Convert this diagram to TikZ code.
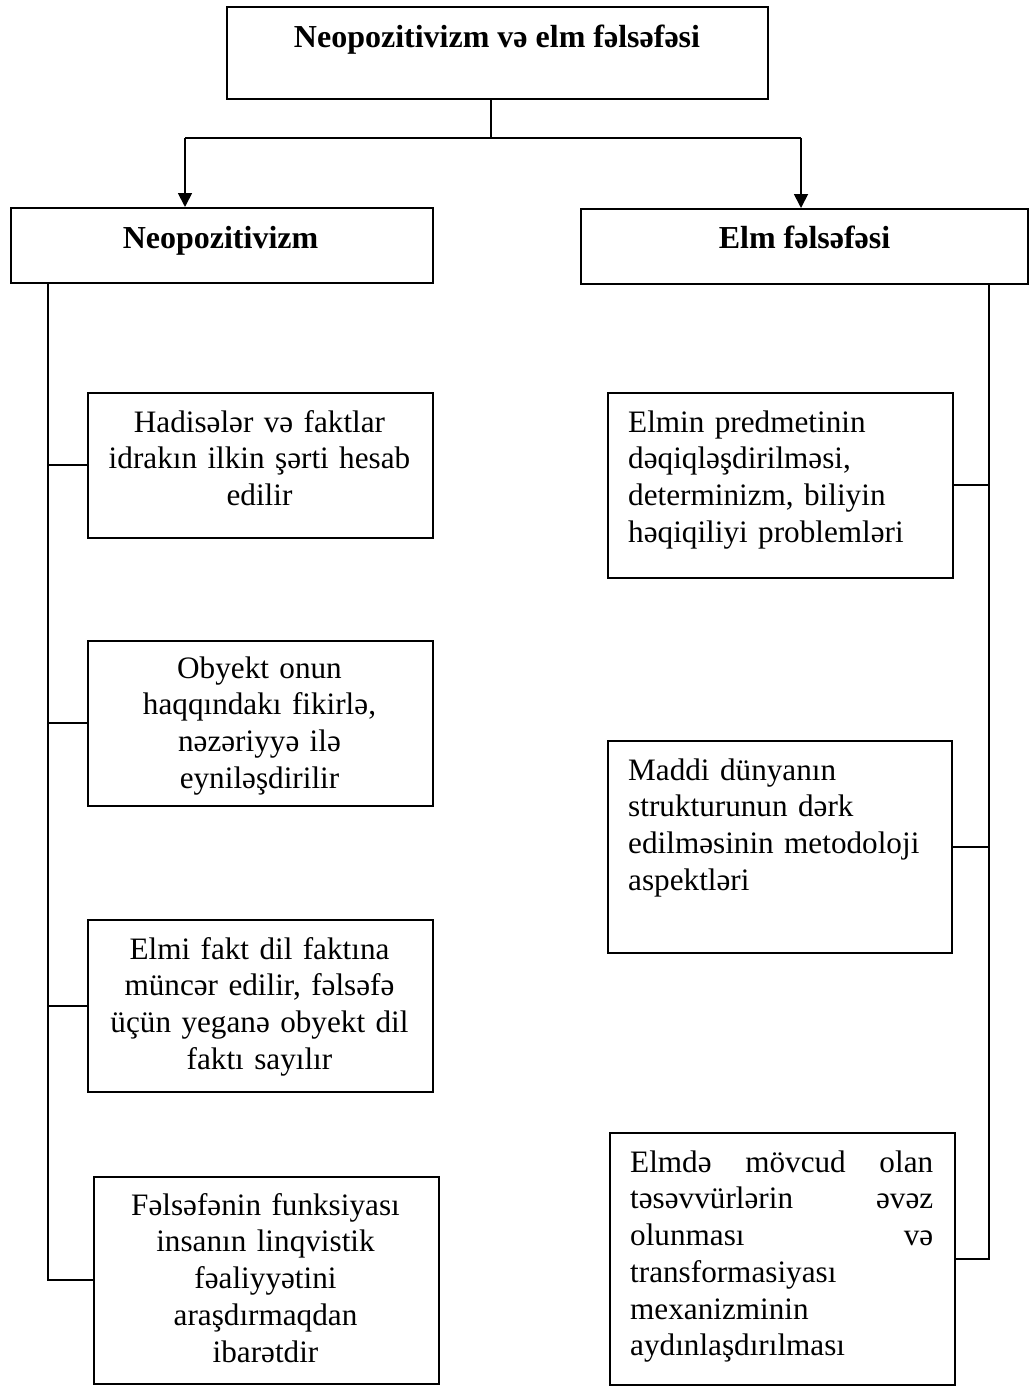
\documentclass[tikz,border=0pt]{standalone}
\usepackage{fontspec}
\setmainfont{Liberation Serif}
\usetikzlibrary{arrows.meta}
\begin{document}
\begin{tikzpicture}[x=1pt,y=-1pt,
  box/.style={draw, line width=1.6pt, inner sep=0pt, anchor=north west},
  conn/.style={line width=1.8pt},
  stem/.style={line width=1.2pt},
  arr/.style={line width=1.8pt, -{Triangle[length=14pt,width=14pt]}},
  head/.style={inner sep=0pt, anchor=base, font=\fontsize{32}{38}\selectfont\bfseries},
  ctxt/.style={inner sep=0pt, anchor=north, text width=340pt, align=center, font=\fontsize{31.2}{36.7}\selectfont},
  ltxt/.style={inner sep=0pt, anchor=north west, text width=320pt, align=left, font=\fontsize{31.2}{36.7}\selectfont}]
\useasboundingbox (0,0) rectangle (1030,1386);
\fill[white] (0,0) rectangle (1030,1386);

% boxes
\node[box, minimum width=541pt, minimum height=92pt] (top) at (226,6) {};
\node[box, minimum width=422pt, minimum height=75pt] (nl) at (10,207) {};
\node[box, minimum width=447pt, minimum height=75pt] (nr) at (580,208) {};
\node[box, minimum width=345pt, minimum height=145pt] (l1) at (87,392) {};
\node[box, minimum width=345pt, minimum height=165pt] (l2) at (87,640) {};
\node[box, minimum width=345pt, minimum height=172pt] (l3) at (87,919) {};
\node[box, minimum width=345pt, minimum height=207pt] (l4) at (93,1176) {};
\node[box, minimum width=345pt, minimum height=185pt] (r1) at (607,392) {};
\node[box, minimum width=344pt, minimum height=212pt] (r2) at (607,740) {};
\node[box, minimum width=345pt, minimum height=252pt] (r3) at (609,1132) {};

% texts
\node[head] (topt) at (497,48) {Neopozitivizm və elm fəlsəfəsi};
\node[head] (nlt) at (220.5,248) {Neopozitivizm};
\node[head] (nrt) at (804.5,248) {Elm fəlsəfəsi};

\node[ctxt] (l1t) at (259.5,406.3) {\strut Hadisələr və faktlar\\ idrakın ilkin şərti hesab\\ edilir};
\node[ctxt] (l2t) at (259.5,652.3) {\strut Obyekt onun\\ haqqındakı fikirlə,\\ nəzəriyyə ilə\\ eyniləşdirilir};
\node[ctxt] (l3t) at (259.5,933.3) {\strut Elmi fakt dil faktına\\ müncər edilir, fəlsəfə\\ üçün yeganə obyekt dil\\ faktı sayılır};
\node[ctxt] (l4t) at (265.5,1189.3) {\strut Fəlsəfənin funksiyası\\ insanın linqvistik\\ fəaliyyətini\\ araşdırmaqdan\\ ibarətdir};

\node[ltxt] (r1t) at (628,406.3) {\strut Elmin predmetinin\\ dəqiqləşdirilməsi,\\ determinizm, biliyin\\ həqiqiliyi problemləri};
\node[ltxt] (r2t) at (628,754.3) {\strut Maddi dünyanın\\ strukturunun dərk\\ edilməsinin metodoloji\\ aspektləri};
\node[ltxt] (r3t) at (630,1146.3) {\strut\leavevmode\hbox to 303pt{Elmdə\hfill mövcud\hfill olan}\\
  \leavevmode\hbox to 303pt{təsəvvürlərin\hfill əvəz}\\
  \leavevmode\hbox to 303pt{olunması\hfill və}\\
  transformasiyası\\ mexanizminin\\ aydınlaşdırılması};

% top connectors
\coordinate (j) at (491,138);
\coordinate (aL) at (185,138);
\coordinate (aR) at (801,138);
\draw[stem] (top.south -| j) -- (j);
\draw[conn] (aL) -- (aR);
\draw[arr] (aL) -- (aL |- nl.north);
\draw[arr] (aR) -- (aR |- nr.north);

% left spine
\coordinate (sL) at (48,0);
\draw[conn] (nl.south -| sL) -- (l4.west -| sL) -- (l4.west);
\draw[conn] (l1.west -| sL) -- (l1.west);
\draw[conn] (l2.west -| sL) -- (l2.west);
\draw[conn] (l3.west -| sL) -- (l3.west);

% right spine
\coordinate (sR) at (989,0);
\draw[conn] (nr.south -| sR) -- (r3.east -| sR) -- (r3.east);
\draw[conn] (r1.east -| sR) -- (r1.east);
\draw[conn] (r2.east -| sR) -- (r2.east);
\end{tikzpicture}
\end{document}
